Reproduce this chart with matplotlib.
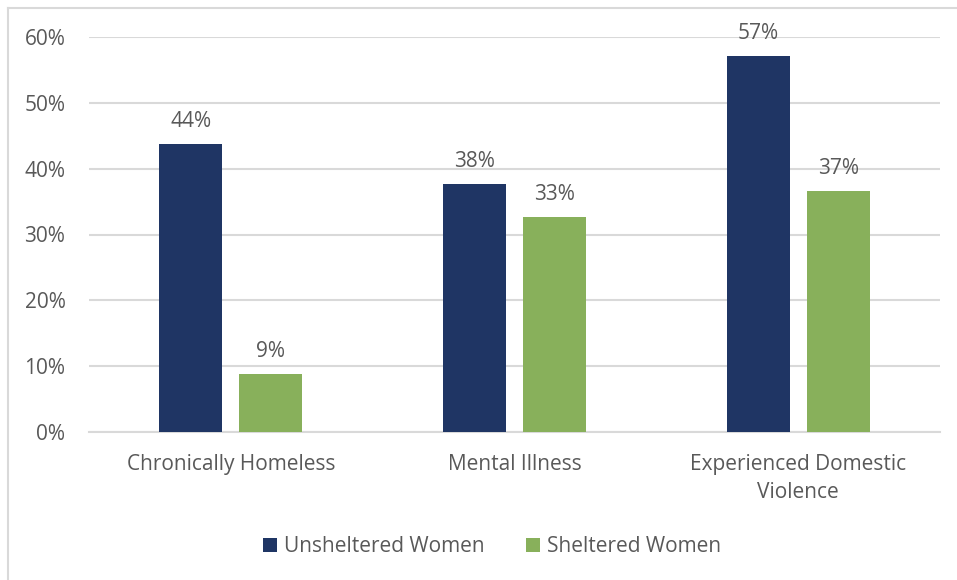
import matplotlib
matplotlib.use("Agg")
import matplotlib.pyplot as plt
from matplotlib.lines import Line2D
import numpy as np

categories = ["Chronically Homeless", "Mental Illness", "Experienced Domestic\nViolence"]
series_names = ["Unsheltered Women", "Sheltered Women"]
unsheltered = [43.7, 37.6, 57.1]
sheltered = [8.8, 32.6, 36.6]
y_ticks = [0, 10, 20, 30, 40, 50, 60]

colors = ["#1f3564", "#88b05b"]
text_color = "#595959"
grid_color = "#d9d9d9"

plt.rcParams["font.family"] = ["Open Sans", "DejaVu Sans"]

W, H = 957, 580
fig = plt.figure(figsize=(W / 100, H / 100), dpi=100)
ax = fig.add_axes([89 / W, 1 - 432 / H, (940 - 89) / W, (432 - 37) / H])

x = np.arange(len(categories))
width = 0.222
offset = 0.141
for vals, name, col, sign in [(unsheltered, series_names[0], colors[0], -1),
                              (sheltered, series_names[1], colors[1], 1)]:
    bars = ax.bar(x + sign * offset, vals, width, color=col, label=name, zorder=3)
    for b, v in zip(bars, vals):
        ax.annotate(f"{v:.0f}%", (b.get_x() + b.get_width() / 2, v),
                    xytext=(0, 9), textcoords="offset points",
                    ha="center", va="bottom", fontsize=15, color=text_color,
                    annotation_clip=False)

ax.set_xlim(-0.5, len(categories) - 0.5)
ax.set_ylim(0, 60)
ax.set_yticks(y_ticks)
ax.set_yticklabels([f"{t}%" for t in y_ticks])
ax.set_xticks(x)
ax.set_xticklabels(categories, linespacing=1.45)
ax.tick_params(axis="both", length=0, labelsize=15, colors=text_color)
ax.tick_params(axis="y", pad=17)
ax.tick_params(axis="x", pad=16)
ax.yaxis.grid(True, color=grid_color, linewidth=1.5, zorder=0)
ax.set_axisbelow(True)
for s in ["top", "right", "left"]:
    ax.spines[s].set_visible(False)
ax.spines["bottom"].set_color(grid_color)
ax.spines["bottom"].set_linewidth(1.5)

leg = fig.legend(loc="center", bbox_to_anchor=(492 / W, 1 - 547 / H), ncol=2,
                 frameon=False, fontsize=15, handlelength=0.65, handleheight=0.65,
                 handletextpad=0.35, columnspacing=2.0, labelcolor=text_color)

# chart frame (left and top edges)
fig.add_artist(Line2D([8 / W, 8 / W], [0, 1 - 8 / H], color=grid_color, linewidth=1.5,
                      transform=fig.transFigure))
fig.add_artist(Line2D([8 / W, 1], [1 - 8 / H, 1 - 8 / H], color=grid_color, linewidth=1.5,
                      transform=fig.transFigure))

fig.savefig("out.png", dpi=100, facecolor="white")
